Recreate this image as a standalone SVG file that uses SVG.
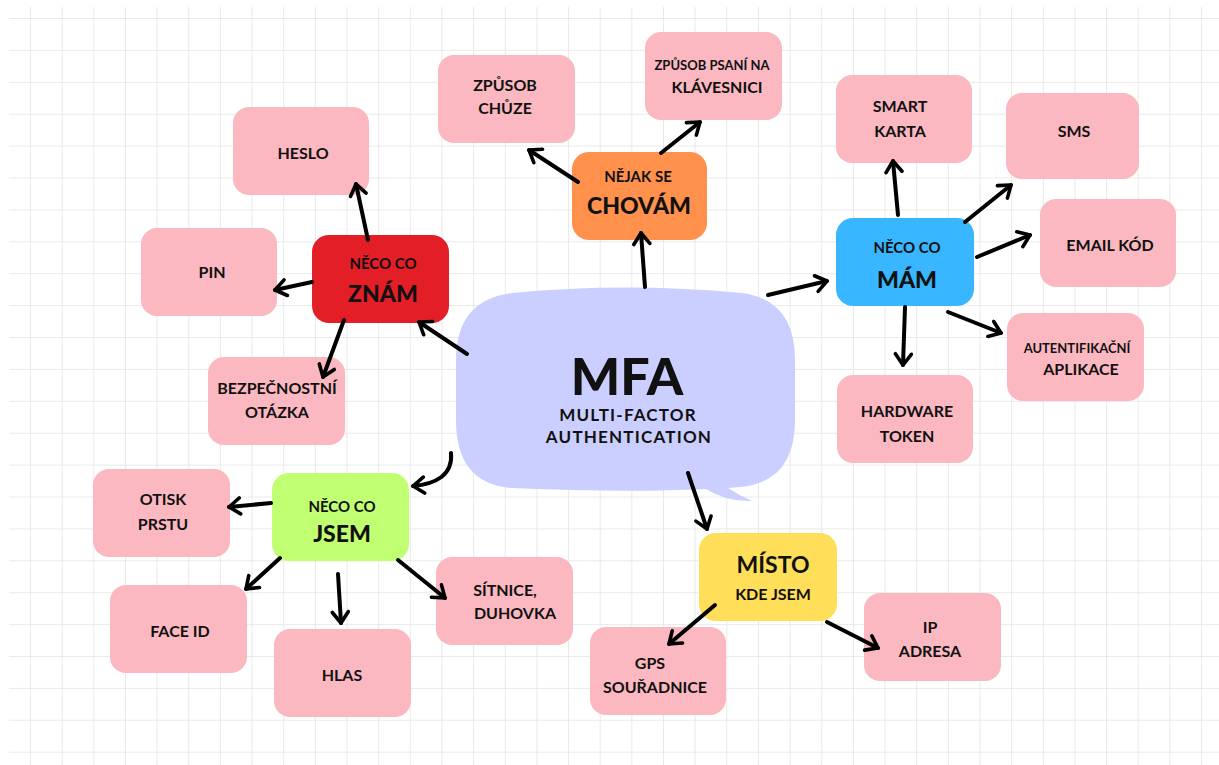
<svg xmlns="http://www.w3.org/2000/svg" width="1219" height="765" viewBox="0 0 1219 765">
<defs>
<pattern id="grid" x="30" y="18" width="31.65" height="31.9" patternUnits="userSpaceOnUse">
<path d="M0,0 V31.9 M0,0 H31.65" fill="none" stroke="#E4E4E4" stroke-width="1.6"/>
</pattern>
<marker id="ah" viewBox="-14 -10 18 20" refX="0" refY="0" markerWidth="18" markerHeight="20" markerUnits="userSpaceOnUse" orient="auto">
<path d="M-11,-8 L0,0 L-11,8" fill="none" stroke="#000" stroke-width="3.6" stroke-linecap="round" stroke-linejoin="round"/>
</marker>
</defs>
<style>
.leaf{fill:#FBB8C1}
.t{font-family:Lato,"Open Sans",sans-serif;font-weight:700;fill:#111;text-anchor:middle}
.s{font-size:16px}
.xs{font-size:13px}
.m{font-size:15px}
.b{font-size:23px;font-weight:900}
.c{fill:none;stroke:#000;stroke-width:4;stroke-linecap:round;marker-end:url(#ah)}
</style>
<rect x="0" y="0" width="1219" height="765" fill="#fff"/>
<rect x="9" y="7" width="1210" height="758" fill="url(#grid)"/>

<g id="center">
<path d="M512,293 Q625,282 742,293 Q795,300 795,360 L795,420 Q795,482 740,487 L728,488 Q740,496 752,501 Q727,502 706,489 Q625,493 512,488 Q456,484 456,420 L456,360 Q456,300 512,293 Z" fill="#CBCFFF"/>
<text class="t" x="627" y="395" style="font-size:52px;font-weight:900">MFA</text>
<text class="t" x="628" y="421" style="font-size:17px;letter-spacing:1.2px">MULTI-FACTOR</text>
<text class="t" x="629" y="443" style="font-size:17px;letter-spacing:1.2px">AUTHENTICATION</text>
</g>

<g id="znam"><rect x="312" y="235" width="137" height="88" rx="17" fill="#E31E26"/>
<text class="t m" x="383" y="269">NĚCO CO</text><text class="t b" x="383" y="302">ZNÁM</text></g>
<g id="chovam"><rect x="572" y="152" width="135" height="88" rx="17" fill="#FF914D"/>
<text class="t m" x="638" y="182">NĚJAK SE</text><text class="t b" x="639" y="214">CHOVÁM</text></g>
<g id="mam"><rect x="836" y="218" width="138" height="88" rx="17" fill="#38B6FF"/>
<text class="t m" x="907" y="253">NĚCO CO</text><text class="t b" x="907" y="288">MÁM</text></g>
<g id="jsem"><rect x="272" y="473" width="137" height="88" rx="17" fill="#C1FF72"/>
<text class="t m" x="342" y="512">NĚCO CO</text><text class="t b" x="342" y="542">JSEM</text></g>
<g id="misto"><rect x="699" y="533" width="138" height="88" rx="17" fill="#FFDE59"/>
<text class="t b" x="773" y="573" style="font-weight:700">MÍSTO</text><text class="t s" x="773" y="600">KDE JSEM</text></g>

<g id="heslo"><rect class="leaf" x="233" y="107" width="136" height="88" rx="16"/><text class="t s" x="303" y="159">HESLO</text></g>
<g id="pin"><rect class="leaf" x="141" y="228" width="136" height="88" rx="16"/><text class="t s" x="212" y="278">PIN</text></g>
<g id="otazka"><rect class="leaf" x="208" y="357" width="137" height="88" rx="16"/><text class="t s" x="277" y="394">BEZPEČNOSTNÍ</text><text class="t s" x="277" y="418">OTÁZKA</text></g>
<g id="chuze"><rect class="leaf" x="438" y="55" width="137" height="88" rx="16"/><text class="t s" x="505" y="91">ZPŮSOB</text><text class="t s" x="505" y="114">CHŮZE</text></g>
<g id="psani"><rect class="leaf" x="645" y="32" width="137" height="88" rx="16"/><text class="t xs" x="712" y="70">ZPŮSOB PSANÍ NA</text><text class="t s" x="717" y="93">KLÁVESNICI</text></g>
<g id="karta"><rect class="leaf" x="836" y="75" width="136" height="88" rx="16"/><text class="t s" x="900" y="112">SMART</text><text class="t s" x="900" y="137">KARTA</text></g>
<g id="sms"><rect class="leaf" x="1006" y="93" width="133" height="86" rx="16"/><text class="t s" x="1074" y="137">SMS</text></g>
<g id="email"><rect class="leaf" x="1040" y="199" width="136" height="88" rx="16"/><text class="t s" x="1110" y="251">EMAIL KÓD</text></g>
<g id="aplikace"><rect class="leaf" x="1007" y="313" width="137" height="88" rx="16"/><text class="t xs" x="1077" y="353">AUTENTIFIKAČNÍ</text><text class="t s" x="1081" y="375">APLIKACE</text></g>
<g id="token"><rect class="leaf" x="837" y="375" width="136" height="88" rx="16"/><text class="t s" x="907" y="417">HARDWARE</text><text class="t s" x="907" y="442">TOKEN</text></g>
<g id="otisk"><rect class="leaf" x="93" y="469" width="137" height="88" rx="16"/><text class="t s" x="163" y="505">OTISK</text><text class="t s" x="163" y="530">PRSTU</text></g>
<g id="faceid"><rect class="leaf" x="110" y="585" width="137" height="88" rx="16"/><text class="t s" x="180" y="637">FACE ID</text></g>
<g id="hlas"><rect class="leaf" x="274" y="629" width="137" height="88" rx="16"/><text class="t s" x="342" y="681">HLAS</text></g>
<g id="sitnice"><rect class="leaf" x="436" y="557" width="137" height="88" rx="16"/><text class="t s" x="505" y="596">SÍTNICE,</text><text class="t s" x="515" y="619">DUHOVKA</text></g>
<g id="gps"><rect class="leaf" x="590" y="627" width="136" height="88" rx="16"/><text class="t s" x="650" y="669">GPS</text><text class="t s" x="655" y="693">SOUŘADNICE</text></g>
<g id="ip"><rect class="leaf" x="864" y="593" width="137" height="88" rx="16"/><text class="t s" x="930" y="633">IP</text><text class="t s" x="930" y="657">ADRESA</text></g>

<g id="connectors">
<path class="c" d="M467,354 L419,322"/>
<path class="c" d="M368,240 L356,184"/>
<path class="c" d="M312,282 L275,290"/>
<path class="c" d="M344,320 L323,377"/>
<path class="c" d="M645,287 L641,233"/>
<path class="c" d="M578,182 L529,150"/>
<path class="c" d="M661,153 L700,122"/>
<path class="c" d="M768,295 L827,281"/>
<path class="c" d="M898,215 L893,161"/>
<path class="c" d="M965,222 L1011,185"/>
<path class="c" d="M977,257 L1030,235"/>
<path class="c" d="M948,312 L1001,333"/>
<path class="c" d="M905,307 L903,365"/>
<path class="c" d="M451,453 C453,475 436,484 413,486"/>
<path class="c" d="M271,503 L229,507"/>
<path class="c" d="M280,558 L246,589"/>
<path class="c" d="M338,574 L341,623"/>
<path class="c" d="M398,560 L445,598"/>
<path class="c" d="M688,473 L707,529"/>
<path class="c" d="M715,605 L669,644"/>
<path class="c" d="M827,622 L878,648"/>
</g>
</svg>
